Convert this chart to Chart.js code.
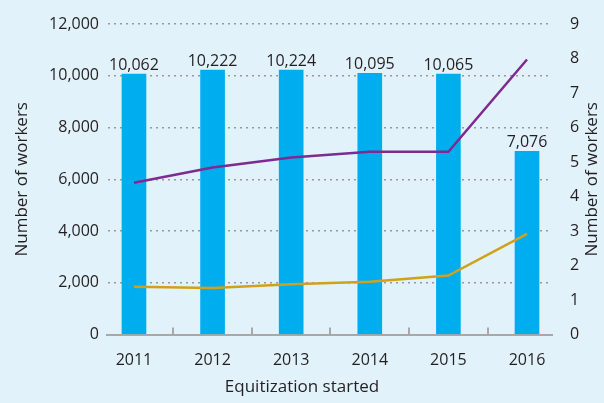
<!DOCTYPE html>
<html>
<head>
<meta charset="utf-8">
<script src="https://cdn.jsdelivr.net/npm/chart.js@4"></script>
<style>
  html, body { margin: 0; padding: 0; background: #e1f2fa; }
  #wrap { width: 604px; height: 403px; }
</style>
</head>
<body>
<div id="wrap"><canvas id="chart"></canvas></div>
<script>
const years = ['2011', '2012', '2013', '2014', '2015', '2016'];
const workers = [10062, 10222, 10224, 10095, 10065, 7076];
const purpleLine = [4.4, 4.84, 5.13, 5.3, 5.3, 7.97];
const goldLine = [1.39, 1.35, 1.46, 1.53, 1.71, 2.92];

const font = "'Open Sans', sans-serif";
const textColor = '#231f20';

// bar value labels
const barLabels = {
    id: 'barLabels',
    afterDatasetsDraw(chart) {
        const ctx = chart.ctx;
        const meta = chart.getDatasetMeta(0);
        ctx.save();
        ctx.font = '16px ' + font;
        ctx.fillStyle = textColor;
        ctx.textAlign = 'center';
        ctx.textBaseline = 'bottom';
        meta.data.forEach((bar, i) => {
            ctx.fillText(workers[i].toLocaleString('en-US'), bar.x, bar.y - 1);
        });
        ctx.restore();
    }
};

// small ticks between the categories + right axis title (reads bottom to top)
const extras = {
    id: 'extras',
    afterDatasetsDraw(chart) {
        const ctx = chart.ctx;
        const x = chart.scales.x;
        const area = chart.chartArea;
        ctx.save();
        ctx.strokeStyle = '#a8a8a8';
        ctx.lineWidth = 2;
        for (let i = 0; i < years.length - 1; i++) {
            const px = Math.round(x.getPixelForValue(i + 0.5));
            ctx.beginPath();
            ctx.moveTo(px, area.bottom - 7);
            ctx.lineTo(px, area.bottom);
            ctx.stroke();
        }
        ctx.translate(592, (area.top + area.bottom) / 2);
        ctx.rotate(-Math.PI / 2);
        ctx.font = '17px ' + font;
        ctx.fillStyle = textColor;
        ctx.textAlign = 'center';
        ctx.textBaseline = 'middle';
        ctx.fillText('Number of workers', 0, 0);
        ctx.restore();
    }
};

chartIt();

function chartIt() {
    const ctx = document.getElementById('chart');

    new Chart(ctx, {
        data: {
            datasets: [{
                type: 'bar',
                data: years.map((y, i) => ({ x: i, y: workers[i] })),
                backgroundColor: '#00aeef',
                barThickness: 24,
                yAxisID: 'y',
                order: 2
            }, {
                type: 'line',
                data: years.map((y, i) => ({ x: i, y: purpleLine[i] })),
                borderColor: '#7d2a91',
                borderWidth: 2.5,
                pointRadius: 0,
                tension: 0,
                yAxisID: 'y1',
                order: 1
            }, {
                type: 'line',
                data: years.map((y, i) => ({ x: i, y: goldLine[i] })),
                borderColor: '#d0a21a',
                borderWidth: 2.5,
                pointRadius: 0,
                tension: 0,
                yAxisID: 'y1',
                order: 1
            }]
        },
        options: {
            responsive: true,
            maintainAspectRatio: false,
            animation: false,
            layout: { padding: { top: 24, left: 0, right: 0, bottom: 0 } },
            plugins: {
                legend: { display: false },
                tooltip: { enabled: false },
                title: {
                    display: true,
                    position: 'bottom',
                    text: 'Equitization started',
                    color: textColor,
                    font: { family: font, size: 17, weight: 'normal' },
                    padding: { top: 4, bottom: 6 }
                }
            },
            scales: {
                x: {
                    type: 'linear',
                    offset: false,
                    min: -0.343,
                    max: 5.318,
                    afterBuildTicks: s => { s.ticks = years.map((y, i) => ({ value: i })); },
                    afterFit: s => { s.height = 38; },
                    ticks: {
                        callback: v => years[v],
                        color: textColor,
                        font: { family: font, size: 16 },
                        padding: 8,
                        maxRotation: 0
                    },
                    grid: { display: false },
                    border: { display: true, color: '#a8a8a8', width: 2 }
                },
                y: {
                    position: 'left',
                    min: 0,
                    max: 12000,
                    afterFit: s => { s.width = 107; },
                    ticks: {
                        stepSize: 2000,
                        callback: v => v.toLocaleString('en-US'),
                        color: textColor,
                        font: { family: font, size: 16 },
                        padding: 8
                    },
                    grid: {
                        color: ctx => ctx.tick && ctx.tick.value === 0 ? 'transparent' : '#999',
                        lineWidth: 1.5,
                        drawTicks: false
                    },
                    border: { display: true, color: 'transparent', dash: [2, 4] },
                    title: {
                        display: true,
                        text: 'Number of workers',
                        color: textColor,
                        font: { family: font, size: 17 },
                        padding: { top: 12, bottom: 0 }
                    }
                },
                y1: {
                    position: 'right',
                    min: 0,
                    max: 9,
                    afterFit: s => { s.width = 52; },
                    ticks: {
                        stepSize: 1,
                        color: textColor,
                        font: { family: font, size: 16 },
                        padding: 10
                    },
                    grid: { display: false },
                    border: { display: false }
                }
            }
        },
        plugins: [barLabels, extras]
    });
}
</script>
</body>
</html>
